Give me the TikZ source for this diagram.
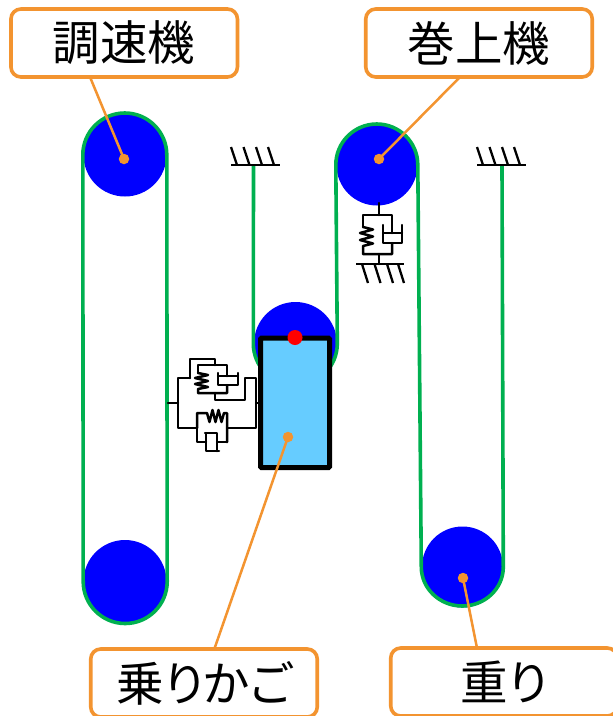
\documentclass[tikz,border=0pt]{standalone}
\usepackage{fontspec}
\newfontfamily\jpfont[RawFeature=+palt]{Noto Sans CJK JP}
\definecolor{rope}{HTML}{00B050}
\definecolor{orangeline}{HTML}{F39430}
\definecolor{carblue}{HTML}{66CCFF}
\tikzset{
  pulley/.style={circle,fill=blue,draw=none,inner sep=0pt,minimum size=#1},
  ropeline/.style={draw=rope,line width=3.6pt},
  mech/.style={draw=black,line width=2.5pt,line join=round,line cap=round},
  gline/.style={draw=black,line width=2.3pt},
  leader/.style={draw=orangeline,line width=2.5pt},
  labelbox/.style={draw=orangeline,fill=white,line width=3.6pt,rounded corners=10pt,minimum width=226.5pt,minimum height=68pt,inner sep=0pt,font=\jpfont\fontsize{47.5}{48}\selectfont,text=black},
  dotmark/.style={circle,fill=orangeline,draw=none,inner sep=0pt,minimum size=10.5pt},
}
\begin{document}
\begin{tikzpicture}[x=1pt,y=-1pt]
\useasboundingbox (0,0) rectangle (613,716);
\clip (0,0) rectangle (613,716);
\fill[white] (0,0) rectangle (613,716);
% pulleys
\node[pulley=83pt] (gt) at (125,155) {};
\node[pulley=83pt] (gb) at (125,581.5) {};
\node[pulley=81pt] (hoist) at (377,165) {};
\node[pulley=83pt] (cp) at (295.5,343.5) {};
\node[pulley=81pt] (wp) at (462.5,567) {};
% ground anchors
\coordinate (anchorL) at (253.5,166);
\coordinate (anchorR) at (502,166);
% ropes
\draw[ropeline] ([xshift=-.5pt]gt.west) arc[start angle=180,end angle=360,radius=42] -- ([xshift=.5pt]gb.east) arc[start angle=0,end angle=180,radius=42] -- cycle;
\draw[ropeline] (anchorL) -- ([xshift=-.5pt]cp.west) arc[start angle=180,end angle=0,radius=42] -- ([xshift=-.5pt]hoist.west) arc[start angle=180,end angle=360,radius=41] -- ([xshift=-.5pt]wp.west) arc[start angle=180,end angle=0,x radius=41,y radius=39] -- (anchorR);
% ground symbols
\foreach \gx in {231,477}{
  \draw[gline] (\gx,165) -- +(48.5,0);
  \foreach \dx in {0,12.5,25,37}{
    \draw[gline] (\gx+\dx+6,165) -- (\gx+\dx,147);
  }
}
% hoist suspension
\draw[gline] (356,264) -- (404,264);
\foreach \hx in {362,374.5,387,398}{
  \draw[gline] (\hx,264) -- (\hx+6,283);
}
\draw[mech] (379,203) -- (379,215);
\draw[mech] (363,227) -- (363,215) -- (392,215) -- (392,233);
\draw[mech] (363,227) -- (373,229.5) -- (360,233) -- (373,236.5) -- (360,240) -- (373,243.5) -- (363,246) -- (363,254) -- (392,254) -- (392,243);
\draw[mech] (383,233) -- (402,233);
\draw[mech] (383,225) -- (383,243) -- (402,243) -- (402,225);
\draw[mech] (379,254) -- (379,264);
% governor coupling
\draw[mech] (168,403) -- (178,403);
\draw[mech] (190,378) -- (178,378) -- (178,428) -- (197,428);
\draw[mech] (190,378) -- (190,359) -- (215,359) -- (215,365);
\draw[mech] (198,373) -- (198,365) -- (227,365) -- (227,376);
\draw[mech] (198,373) -- (208,375) -- (195,378) -- (208,381) -- (195,384) -- (208,387) -- (198,389) -- (198,393) -- (227,393) -- (227,385);
\draw[mech] (218,376) -- (238,376);
\draw[mech] (218,373) -- (218,385) -- (238,385) -- (238,373);
\draw[mech] (215,393) -- (215,400) -- (245,400) -- (245,378) -- (256,378) -- (256,428) -- (227,428);
\draw[mech] (256,403) -- (261,403);
\draw[mech] (197,428) -- (197,413) -- (207,413) -- (209.5,422) -- (212.5,410) -- (215.5,422) -- (218.5,410) -- (221.5,422) -- (224,413) -- (227,413) -- (227,442);
\draw[mech] (197,428) -- (197,442) -- (206,442);
\draw[mech] (227,442) -- (217,442);
\draw[mech] (205,433) -- (217,433) -- (217,451);
\draw[mech] (206,433) -- (206,451) -- (219,451);
% leaders
\coordinate (a1) at (90,77);
\coordinate (a2) at (460,77);
\coordinate (a3) at (214,650);
\coordinate (a4) at (477,648);
% car
\node[draw=black,fill=carblue,line width=5pt,minimum width=69pt,minimum height=129.5pt,inner sep=0pt,rounded corners=1pt] (car) at (295,402.8) {};
\node[circle,fill=red,draw=none,inner sep=0pt,minimum size=15pt] (reddot) at (295,337.5) {};
% marks and leader lines
\node[dotmark] (d1) at (124,159) {};
\node[dotmark] (d2) at (379,159) {};
\node[dotmark] (d3) at (288,437) {};
\node[dotmark] (d4) at (463,578) {};
\draw[leader] (d1.center) -- (a1);
\draw[leader] (d2.center) -- (a2);
\draw[leader] (d3.center) -- (a3);
\draw[leader] (d4.center) -- (a4);
% labels
\node[labelbox] (l1) at (124.2,43) {調速機};
\node[labelbox] (l2) at (479,43) {巻上機};
\node[labelbox] (l3) at (204,683) {\raisebox{-2pt}{乗りかご}};
\node[labelbox] (l4) at (504,682) {\raisebox{-3pt}{重り}};
\end{tikzpicture}
\end{document}
